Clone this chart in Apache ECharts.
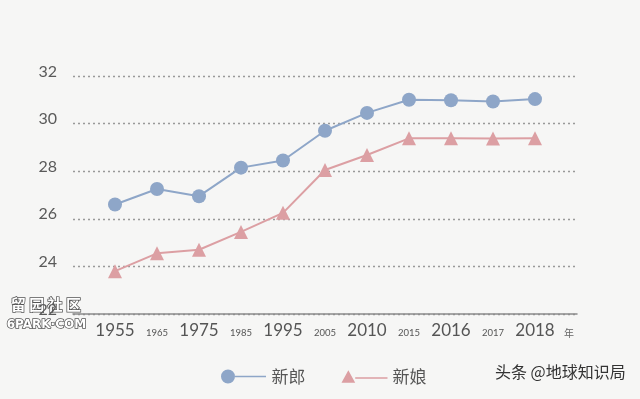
<!DOCTYPE html>
<html>
<head>
<meta charset="utf-8">
<script src="https://cdn.jsdelivr.net/npm/echarts@6/dist/echarts.min.js"></script>
<style>
  html, body { margin: 0; padding: 0; background: #f6f6f5; }
  #chart { width: 640px; height: 399px; }
</style>
</head>
<body>
<div id="chart"></div>
<script>
// years on the x axis; big = prominent label, small = minor label
const years = ['1955', '1965', '1975', '1985', '1995', '2005', '2010', '2015', '2016', '2017', '2018'];
const bigYears = ['1955', '1975', '1995', '2010', '2016', '2018'];

// average age at first marriage
const groom = [26.6, 27.25, 26.95, 28.15, 28.45, 29.7, 30.45, 31.0, 30.98, 30.93, 31.03];
const bride = [23.8, 24.55, 24.7, 25.45, 26.25, 28.05, 28.68, 29.38, 29.38, 29.37, 29.38];

const yTicks = { min: 22, max: 32, step: 2 };

const chart = echarts.init(document.getElementById('chart'));

const circleIcon = 'path://M0,7A7,7 0 1,1 14,7A7,7 0 1,1 0,7Z M14,6.2L45,6.2L45,7.8L14,7.8Z';
const triangleIcon = 'path://M7,0L14,13L0,13Z M14,7.2L47,7.2L47,8.8L14,8.8Z';

const option = {
  backgroundColor: '#f6f6f5',
  animation: false,
  grid: {
    left: 73,
    right: 63,
    top: 76,
    bottom: 85
  },
  legend: {
    left: 216,
    top: 363,
    itemWidth: 46,
    itemHeight: 14,
    itemGap: 36,
    textStyle: {
      fontFamily: 'Noto Sans CJK SC',
      fontSize: 17,
      color: '#555'
    },
    data: [
      { name: '新郎', icon: circleIcon },
      { name: '新娘', icon: triangleIcon }
    ]
  },
  xAxis: {
    type: 'value',
    min: -1,
    max: 11,
    interval: 1,
    splitLine: { show: false },
    axisTick: { show: false },
    axisLine: { show: true, lineStyle: { color: '#8a8a8a', width: 1.5 } },
    axisLabel: {
      margin: 7,
      showMinLabel: false,
      showMaxLabel: true,
      formatter: (v) => {
        if (v === 11) return '{n|年}';
        const y = years[v];
        if (!y) return '';
        return bigYears.includes(y) ? '{b|' + y + '}' : '{s|' + y + '}';
      },
      rich: {
        b: { fontSize: 17, color: '#555', fontFamily: 'Lato', lineHeight: 20 },
        s: { fontSize: 9.5, color: '#555', fontFamily: 'Lato', lineHeight: 20, padding: [4, 0, 0, 0] },
        n: { fontSize: 10, color: '#666', fontFamily: 'Noto Sans CJK SC', lineHeight: 20, padding: [4, 16, 0, 0] }
      }
    }
  },
  yAxis: {
    type: 'value',
    min: yTicks.min,
    max: yTicks.max,
    interval: yTicks.step,
    axisLine: { show: false },
    axisTick: { show: false },
    axisLabel: {
      margin: 16,
      formatter: '{a|{value}}',
      rich: {
        a: { fontSize: 16, color: '#5a5a5a', fontFamily: 'Lato', padding: [0, 0, 9, 0] }
      }
    },
    splitLine: {
      lineStyle: { type: [2, 3], color: '#999', width: 1.3 }
    }
  },
  graphic: [
    {
      type: 'text',
      left: 495,
      top: 364,
      style: {
        text: '头条 @地球知识局',
        font: '16px "Noto Sans CJK SC"',
        fill: '#333'
      }
    },
    {
      type: 'text',
      left: 10,
      top: 296,
      style: {
        text: '留 园 社 区',
        font: 'bold 15px "Noto Sans CJK SC"',
        fill: '#fff',
        stroke: '#555',
        lineWidth: 1.5
      }
    },
    {
      type: 'text',
      left: 6,
      top: 318,
      style: {
        text: '6PARK·COM',
        font: 'bold 12px "DejaVu Sans"',
        fill: '#fff',
        stroke: '#555',
        lineWidth: 1.5
      }
    }
  ],
  series: [
    {
      name: '新郎',
      type: 'line',
      data: groom.map((v, i) => [i, v]),
      symbol: 'circle',
      symbolSize: 14,
      lineStyle: { color: '#8ea6c8', width: 2 },
      itemStyle: { color: '#8ea6c8' }
    },
    {
      name: '新娘',
      type: 'line',
      data: bride.map((v, i) => [i, v]),
      symbol: 'triangle',
      symbolSize: 14,
      lineStyle: { color: '#dc9fa3', width: 2 },
      itemStyle: { color: '#dc9fa3' }
    }
  ]
};

chart.setOption(option);
</script>
</body>
</html>
